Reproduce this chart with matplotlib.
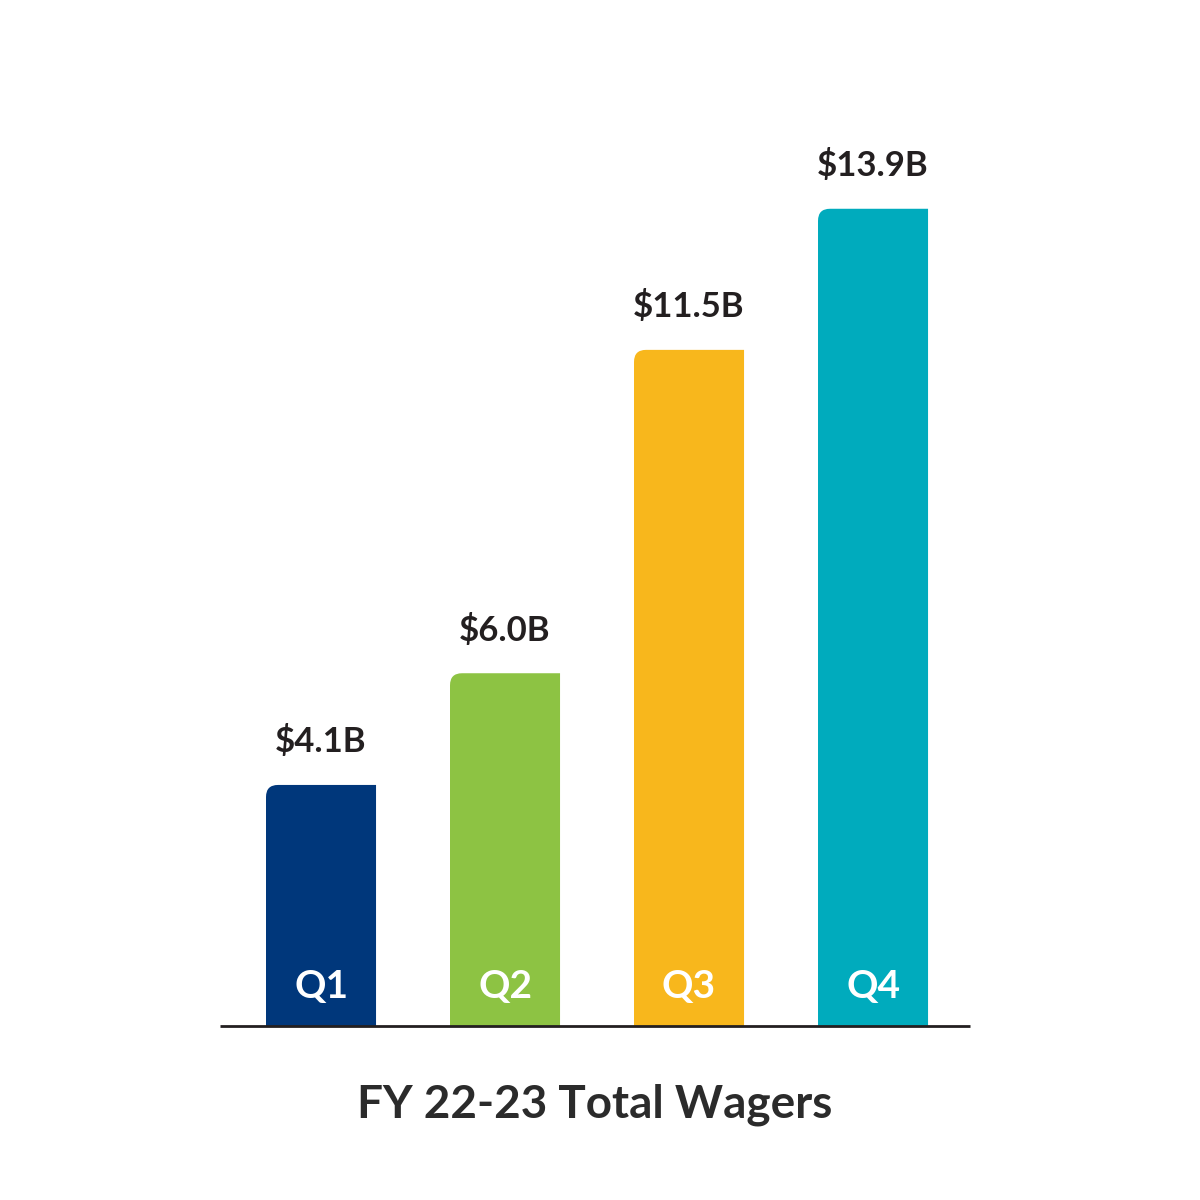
import matplotlib
matplotlib.use("Agg")
import matplotlib.pyplot as plt
from matplotlib.path import Path
from matplotlib.patches import PathPatch

quarters = ["Q1", "Q2", "Q3", "Q4"]
values = [4.1, 6.0, 11.5, 13.9]
value_labels = ["$4.1B", "$6.0B", "$11.5B", "$13.9B"]
colors = ["#00377B", "#8DC343", "#F8B71C", "#00ABBD"]
title = "FY 22-23 Total Wagers"

plt.rcParams['font.family'] = ['Lato', 'DejaVu Sans']
fig = plt.figure(figsize=(12, 12), dpi=100)
ax = fig.add_axes([220/1200, 174/1200, 750/1200, 926/1200])
ax.set_xlim(-0.549, 3.527)
ax.set_ylim(0, 15.75)
ax.axis('off')

w = 0.598
rx = 12/184
ry = 12/58.8
for i, (v, c) in enumerate(zip(values, colors)):
    x0, x1 = i - w/2, i + w/2
    verts = [(x0, 0), (x1, 0), (x1, v), (x0 + rx, v), (x0, v), (x0, v - ry), (x0, 0)]
    codes = [Path.MOVETO, Path.LINETO, Path.LINETO, Path.LINETO, Path.CURVE3, Path.CURVE3, Path.CLOSEPOLY]
    ax.add_patch(PathPatch(Path(verts, codes), facecolor=c, edgecolor='none'))
    ax.text(i, v + 0.45, value_labels[i], ha='center', va='bottom', fontsize=25,
            fontweight='bold', color='#231F20')
    ax.text(i, 0.38, quarters[i], ha='center', va='bottom', fontsize=28,
            fontweight='bold', color='white')

ax.plot([-0.549, 3.527], [0, 0], color='#231F20', lw=2, solid_capstyle='butt', clip_on=False)
fig.text(595/1200, 1-1105/1200, title, ha='center', va='center', fontsize=33,
         fontweight='bold', color='#2B2B2B')
fig.savefig("out.png", dpi=100, facecolor='white')
